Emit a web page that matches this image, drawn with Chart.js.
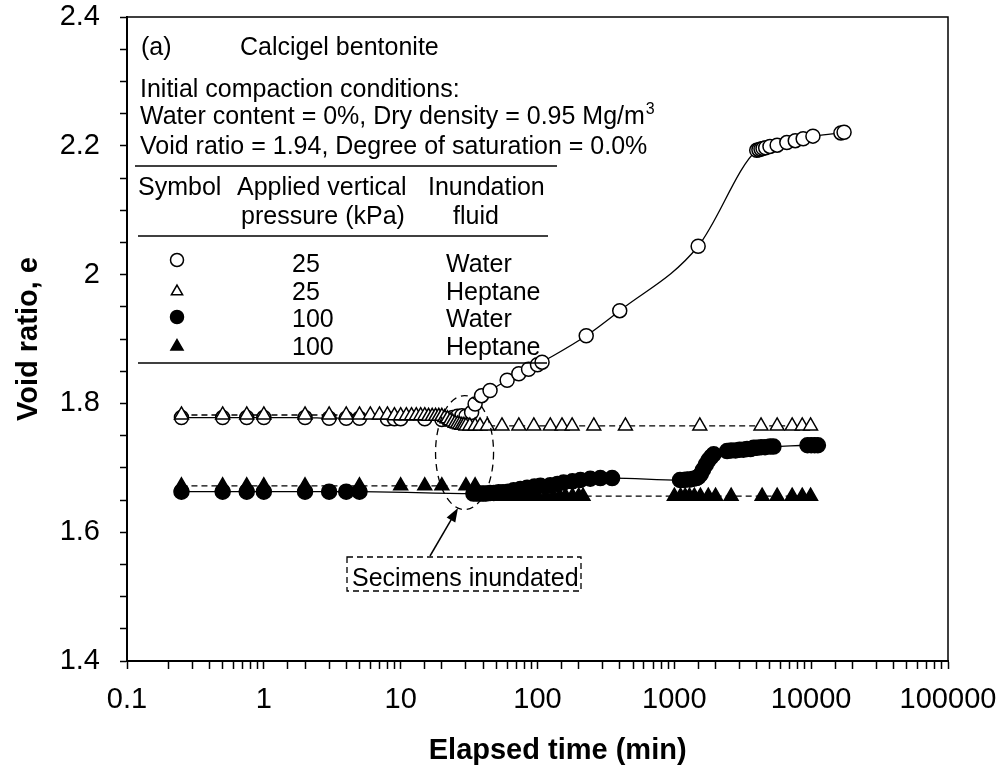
<!DOCTYPE html>
<html>
<head>
<meta charset="utf-8">
<script src="https://cdn.jsdelivr.net/npm/chart.js@4.4.1/dist/chart.umd.min.js"></script>
<style>
  html, body { margin: 0; padding: 0; background: #fff; }
  #wrap { width: 1004px; height: 771px; }
</style>
</head>
<body>
<div id="wrap"><canvas id="chart" width="1004" height="771"></canvas></div>
<script>
// 25 kPa, water (open circles)
const tWater25 = [0.25, 0.5, 0.75, 1, 2, 3, 4, 5, 8, 9, 10, 15, 20, 22, 24, 26, 28, 30, 33, 35, 39, 45,
  60, 73, 86, 100, 108, 227, 399, 1493, 4000, 4150, 4300, 4450, 4650, 5000, 5640, 6640, 7650, 8740, 10300, 16500, 17400];
const eWater25 = [1.778, 1.778, 1.778, 1.778, 1.778, 1.777, 1.777, 1.777, 1.776, 1.776, 1.776, 1.776, 1.775, 1.776, 1.778, 1.780, 1.781, 1.780, 1.786, 1.799, 1.812, 1.820,
  1.836, 1.846, 1.853, 1.860, 1.864, 1.905, 1.944, 2.044, 2.193, 2.194, 2.195, 2.196, 2.197, 2.199, 2.201, 2.205, 2.208, 2.211, 2.215, 2.220, 2.221];

// 25 kPa, heptane (open triangles)
const tHeptane25 = [0.25, 0.5, 0.75, 1, 2, 3, 4, 5, 6, 7, 8, 9, 10, 11, 12, 13, 14, 15, 16, 17, 18, 19, 20,
  21, 22, 23, 24, 25, 26, 27, 28, 29, 30, 32, 35, 38, 43, 55, 73, 94, 124, 151, 179, 258, 439, 1535, 4300, 5640, 7260, 8600, 9900];
const eHeptane25 = [1.782, 1.782, 1.782, 1.782, 1.782, 1.782, 1.782, 1.782, 1.782, 1.782, 1.782, 1.781, 1.781, 1.781, 1.781, 1.781, 1.781, 1.781, 1.780, 1.780, 1.780, 1.780, 1.780,
  1.778, 1.776, 1.773, 1.771, 1.769, 1.768, 1.767, 1.766, 1.766, 1.765, 1.765, 1.765, 1.765, 1.765, 1.765, 1.765, 1.765, 1.765, 1.765, 1.765, 1.765, 1.765, 1.765, 1.765, 1.765, 1.765, 1.765, 1.765];

// 100 kPa, water (filled circles)
const tWater100 = [0.25, 0.5, 0.75, 1, 2, 3, 4, 5, 34, 36, 38, 40, 42, 45, 48, 52, 56, 61, 67, 75, 84, 95, 105, 124, 140, 155, 180, 206, 243, 288, 351,
  1100, 1170, 1240, 1310, 1380, 1450, 1500, 1560, 1620, 1700, 1780, 1860, 1940, 2430, 2600, 2800, 3000, 3200, 3400, 3600,
  3800, 4000, 4300, 4600, 5000, 5300, 9400, 10000, 10600, 11200];
const eWater100 = [1.663, 1.663, 1.663, 1.663, 1.663, 1.663, 1.663, 1.663, 1.660, 1.660, 1.660, 1.660, 1.660, 1.661, 1.661, 1.662, 1.662, 1.663, 1.665, 1.667, 1.669, 1.671, 1.672, 1.673, 1.675, 1.677, 1.679, 1.681, 1.683, 1.684, 1.684,
  1.681, 1.681, 1.682, 1.682, 1.683, 1.684, 1.686, 1.690, 1.697, 1.705, 1.712, 1.717, 1.721, 1.726, 1.727, 1.727, 1.728, 1.728, 1.729, 1.729,
  1.731, 1.731, 1.732, 1.732, 1.733, 1.733, 1.735, 1.735, 1.735, 1.735];

// 100 kPa, heptane (filled triangles)
const tHeptane100 = [0.25, 0.5, 0.75, 1, 2, 5, 10, 15, 20, 30, 35, 37, 40, 45, 50, 60, 70, 80, 90, 100, 115, 130, 145, 160, 180, 200, 215,
  1000, 1110, 1200, 1290, 1400, 1550, 1770, 2000, 2600, 4380, 5640, 7260, 8600, 9900];
const eHeptane100 = [1.672, 1.672, 1.672, 1.672, 1.672, 1.672, 1.672, 1.672, 1.672, 1.672, 1.672, 1.660, 1.656, 1.656, 1.656, 1.656, 1.656, 1.656, 1.656, 1.656, 1.656, 1.656, 1.656, 1.656, 1.656, 1.656, 1.656,
  1.656, 1.656, 1.656, 1.656, 1.656, 1.656, 1.656, 1.656, 1.656, 1.656, 1.656, 1.656, 1.656, 1.656];

const FONT = '"Liberation Sans", Arial, Helvetica, sans-serif';

function toPoints(t, e) {
  return t.map((v, i) => ({ x: v, y: e[i] }));
}

// text, table, frame and the "specimens inundated" note
const notes = {
  id: 'notes',
  afterDatasetsDraw(chart) {
    const ctx = chart.ctx;
    const ca = chart.chartArea;
    const xs = chart.scales.x, ys = chart.scales.y;
    ctx.save();
    ctx.strokeStyle = '#000';
    ctx.fillStyle = '#000';

    // top and right frame
    ctx.lineWidth = 1.5;
    ctx.beginPath();
    ctx.moveTo(ca.left, ca.top);
    ctx.lineTo(ca.right, ca.top);
    ctx.lineTo(ca.right, ca.bottom);
    ctx.stroke();

    ctx.font = '25px ' + FONT;
    ctx.textBaseline = 'alphabetic';
    ctx.textAlign = 'left';
    ctx.fillText('(a)', 141, 55);
    ctx.fillText('Calcigel bentonite', 240, 55);
    ctx.fillText('Initial compaction conditions:', 140, 97);
    const line2 = 'Water content = 0%, Dry density = 0.95 Mg/m';
    ctx.fillText(line2, 140, 124);
    const w2 = ctx.measureText(line2).width;
    ctx.font = '16px ' + FONT;
    ctx.fillText('3', 140 + w2 + 1, 114);
    ctx.font = '25px ' + FONT;
    ctx.fillText('Void ratio = 1.94, Degree of saturation = 0.0%', 140, 154);

    // table rules
    ctx.lineWidth = 1.5;
    [[135, 557, 166], [138, 548, 236], [138, 547, 363]].forEach(([a, b, yy]) => {
      ctx.beginPath();
      ctx.moveTo(a, yy);
      ctx.lineTo(b, yy);
      ctx.stroke();
    });

    ctx.fillText('Symbol', 138, 195);
    ctx.fillText('Applied vertical', 237, 195);
    ctx.fillText('pressure (kPa)', 241, 224);
    ctx.fillText('Inundation', 428, 195);
    ctx.fillText('fluid', 453, 224);

    const rows = [
      { style: 'circle', fill: '#fff', r: 6.5, y: 260, base: 272, p: '25', f: 'Water' },
      { style: 'triangle', fill: '#fff', r: 6.5, y: 291.5, base: 300, p: '25', f: 'Heptane' },
      { style: 'circle', fill: '#000', r: 6.5, y: 317, base: 327, p: '100', f: 'Water' },
      { style: 'triangle', fill: '#000', r: 7, y: 346.5, base: 355, p: '100', f: 'Heptane' }
    ];
    rows.forEach(row => {
      ctx.fillStyle = row.fill;
      ctx.strokeStyle = '#000';
      Chart.helpers.drawPoint(ctx, { pointStyle: row.style, radius: row.r, rotation: 0, borderWidth: 1.5 }, 177, row.y);
      ctx.fillStyle = '#000';
      ctx.fillText(row.p, 292, row.base);
      ctx.fillText(row.f, 446, row.base);
    });

    // dashed ellipse round the inundation point
    const cx = xs.getPixelForValue(29.3);
    const cy = ys.getPixelForValue(1.7236);
    ctx.lineWidth = 1.3;
    ctx.setLineDash([7, 5]);
    ctx.beginPath();
    ctx.ellipse(cx, cy, 29, 57, 0, 0, Math.PI * 2);
    ctx.stroke();

    // note box
    ctx.setLineDash([6, 4]);
    ctx.strokeRect(347, 557, 234, 34);
    ctx.setLineDash([]);
    ctx.fillText('Secimens inundated', 352, 586);

    // arrow
    const ax = 430, ay = 556, bx = 458, by = 508;
    const ang = Math.atan2(by - ay, bx - ax);
    ctx.lineWidth = 1.5;
    ctx.beginPath();
    ctx.moveTo(ax, ay);
    ctx.lineTo(bx - 10 * Math.cos(ang), by - 10 * Math.sin(ang));
    ctx.stroke();
    ctx.beginPath();
    ctx.moveTo(bx, by);
    ctx.lineTo(bx - 14 * Math.cos(ang) + 5 * Math.sin(ang), by - 14 * Math.sin(ang) - 5 * Math.cos(ang));
    ctx.lineTo(bx - 14 * Math.cos(ang) - 5 * Math.sin(ang), by - 14 * Math.sin(ang) + 5 * Math.cos(ang));
    ctx.closePath();
    ctx.fill();

    ctx.restore();
  }
};

const common = {
  showLine: true,
  borderColor: '#000',
  borderWidth: 1.3,
  pointBorderColor: '#000',
  pointBorderWidth: 1.5,
  pointHoverRadius: 0
};

new Chart(document.getElementById('chart').getContext('2d'), {
  type: 'scatter',
  data: {
    datasets: [
      Object.assign({}, common, {
        label: '25 kPa, water',
        data: toPoints(tWater25, eWater25),
        pointStyle: 'circle',
        pointRadius: 7,
        pointBackgroundColor: '#fff',
        cubicInterpolationMode: 'monotone',
        order: 4
      }),
      Object.assign({}, common, {
        label: '25 kPa, heptane',
        data: toPoints(tHeptane25, eHeptane25),
        pointStyle: 'triangle',
        pointRadius: 8,
        pointBackgroundColor: '#fff',
        borderDash: [6, 4],
        order: 3
      }),
      Object.assign({}, common, {
        label: '100 kPa, water',
        data: toPoints(tWater100, eWater100),
        pointStyle: 'circle',
        pointRadius: 7.5,
        pointBackgroundColor: '#000',
        cubicInterpolationMode: 'monotone',
        order: 2
      }),
      Object.assign({}, common, {
        label: '100 kPa, heptane',
        data: toPoints(tHeptane100, eHeptane100),
        pointStyle: 'triangle',
        pointRadius: 8,
        pointBackgroundColor: '#000',
        borderDash: [6, 4],
        order: 1
      })
    ]
  },
  options: {
    responsive: false,
    animation: false,
    layout: { padding: { top: 17, right: 56, bottom: 0, left: 0 } },
    plugins: {
      legend: { display: false },
      tooltip: { enabled: false }
    },
    scales: {
      x: {
        type: 'logarithmic',
        min: 0.1,
        max: 100000,
        afterFit: s => { s.height = 110; s.paddingLeft = 0; s.paddingRight = 0; },
        border: { display: true, color: '#000', width: 2 },
        grid: { drawOnChartArea: false, drawTicks: true, tickLength: 8, color: '#000', tickWidth: 1.5 },
        ticks: {
          autoSkip: false,
          maxRotation: 0,
          padding: 14,
          color: '#000',
          font: { family: FONT, size: 29 },
          callback: v => {
            const l = Math.log10(v);
            return Math.abs(l - Math.round(l)) < 1e-6 ? String(v) : '';
          }
        },
        title: {
          display: true,
          text: '     Elapsed time (min)',
          color: '#000',
          font: { family: FONT, size: 29, weight: 'bold' },
          padding: { top: 0, bottom: 3 }
        }
      },
      y: {
        type: 'linear',
        min: 1.4,
        max: 2.4,
        afterFit: s => { s.width = 127; s.paddingTop = 0; s.paddingBottom = 0; },
        border: { display: true, color: '#000', width: 2 },
        grid: { drawOnChartArea: false, drawTicks: true, tickLength: 7, color: '#000', tickWidth: 1.5 },
        ticks: {
          stepSize: 0.05,
          autoSkip: false,
          padding: 20,
          color: '#000',
          font: { family: FONT, size: 29 },
          callback: v => Math.abs(v * 5 - Math.round(v * 5)) < 1e-6 ? String(Math.round(v * 10) / 10) : ''
        },
        title: {
          display: true,
          text: 'Void ratio, e',
          color: '#000',
          font: { family: FONT, size: 29, weight: 'bold' },
          padding: { top: 12, bottom: 0 }
        }
      }
    }
  },
  plugins: [notes]
});
</script>
</body>
</html>
